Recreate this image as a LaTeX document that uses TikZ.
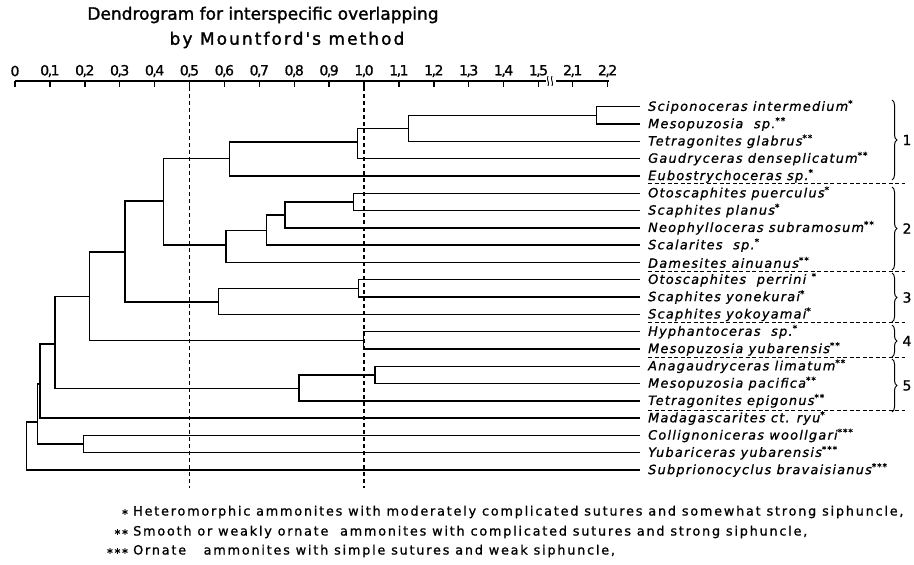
\documentclass[tikz,border=0pt]{standalone}
\usepackage{fontspec}
\setmainfont{DejaVu Sans}[FakeBold=1]
\newfontfamily\spcfont{DejaVu Sans}[LetterSpace=10,FakeBold=1]
\newfontfamily\legfont{DejaVu Sans}[LetterSpace=14,FakeBold=1]
\newfontfamily\ttlfont{DejaVu Sans}[LetterSpace=12,FakeBold=1.5]
\usetikzlibrary{decorations.pathreplacing}
\newcommand\dv[2]{#1\kern-1.5pt,\kern-1.5pt#2}

\tikzset{
  link/.style={line width=1.4pt},
  cut/.style={line width=1.2pt,dash pattern=on 4pt off 3pt},
  sep/.style={line width=1pt,dash pattern=on 4pt off 2.5pt},
  leaf/.style={anchor=west,inner xsep=8pt,inner ysep=0pt,font=\spcfont\itshape\fontsize{12.8}{14}\selectfont},
  legtext/.style={anchor=west,inner sep=0pt,font=\legfont\fontsize{12.8}{14}\selectfont},
  grp/.style={decorate,decoration={brace,amplitude=5pt},line width=1pt},
}

\begin{document}
\begin{tikzpicture}[x=1pt,y=-1pt]
\useasboundingbox (0,0) rectangle (914,565);

\node[font=\ttlfont\fontsize{17}{20}\selectfont,inner sep=0pt] (title1) at (263,15) {\addfontfeature{LetterSpace=0}Dendrogram for interspecific overlapping};
\node[font=\ttlfont\fontsize{17}{20}\selectfont,inner sep=0pt] (title2) at (287,40) {by Mountford's method};

% scale
\draw[link] (15,81) -- (546,81) (556,81) -- (609,81);
\draw[line width=0.9pt] (548,76) .. controls (546,79) and (550,83) .. (548,86);
\draw[line width=0.9pt] (552,76) .. controls (550,79) and (554,83) .. (552,86);
\foreach \x/\t [count=\i] in {15/0,49.9/\dv01,84.8/\dv02,119.7/\dv03,154.6/\dv04,189.5/\dv05,
    224.4/\dv06,259.3/\dv07,294.2/\dv08,329.1/\dv09,364/\dv10,398.9/\dv11,433.8/\dv12,
    468.7/\dv13,503.6/\dv14,538.5/\dv15,572.7/\dv21,607.6/\dv22} {
  \draw[link] (\x,81) -- (\x,87) coordinate (tk\i);
  \node[font=\fontsize{14}{15}\selectfont] (sc\i) at (\x,71) {\t};
}
\draw[cut] (tk6) -- (tk6 |- 0,488);
\draw[cut] (tk11) -- (tk11 |- 0,488);

% species
\foreach \n [count=\k from 0] in {Sciponoceras intermedium\textsuperscript{*},
    Mesopuzosia\ \ sp.\textsuperscript{**},Tetragonites glabrus\textsuperscript{**},
    Gaudryceras denseplicatum\textsuperscript{**},Eubostrychoceras sp.\textsuperscript{*},
    Otoscaphites puerculus\textsuperscript{*},Scaphites planus\textsuperscript{*},
    Neophylloceras subramosum\textsuperscript{**},Scalarites\ \ sp.\textsuperscript{*},
    Damesites ainuanus\textsuperscript{**},Otoscaphites\ \ perrini\ \textsuperscript{*},
    Scaphites yonekurai\textsuperscript{*},Scaphites yokoyamai\textsuperscript{*},
    Hyphantoceras\ \ sp.\textsuperscript{*},Mesopuzosia yubarensis\textsuperscript{**},
    Anagaudryceras limatum\textsuperscript{**},Mesopuzosia pacifica\textsuperscript{**},
    Tetragonites epigonus\textsuperscript{**},Madagascarites ct. ryu\textsuperscript{*},
    Collignoniceras woollgari\textsuperscript{***},Yubariceras yubarensis\textsuperscript{***},
    Subprionocyclus bravaisianus\textsuperscript{***}}
  \node[leaf] (l\k) at (640,106.7+17.3*\k) {\n};

% joins
\coordinate (a1) at (596.7,115.3);
\coordinate (a2) at (408.3,128.3);
\coordinate (a3) at (357.3,142);
\coordinate (a4) at (229.3,158.5);
\coordinate (b1) at (353.3,202);
\coordinate (b2) at (285,215);
\coordinate (b3) at (266.7,230.5);
\coordinate (b4) at (226,245);
\coordinate (c1) at (163.3,201);
\coordinate (d1) at (358.3,288.5);
\coordinate (d2) at (218.3,302);
\coordinate (c2) at (125,252);
\coordinate (e1) at (363.3,340.3);
\coordinate (c3) at (89.3,296.5);
\coordinate (f1) at (375,375);
\coordinate (f2) at (299,388.3);
\coordinate (g1) at (55,344);
\coordinate (g2) at (40,384);
\coordinate (h1) at (83.3,444);
\coordinate (g3) at (37.7,422);
\coordinate (r0) at (26.7,446);

\draw[link] (l0.west) -| (a1) |- (l1.west);
\draw[link] (a1) -| (a2) |- (l2.west);
\draw[link] (a2) -| (a3) |- (l3.west);
\draw[link] (a3) -| (a4) |- (l4.west);
\draw[link] (l5.west) -| (b1) |- (l6.west);
\draw[link] (b1) -| (b2) |- (l7.west);
\draw[link] (b2) -| (b3) |- (l8.west);
\draw[link] (b3) -| (b4) |- (l9.west);
\draw[link] (a4) -| (c1) |- (b4);
\draw[link] (l10.west) -| (d1) |- (l11.west);
\draw[link] (d1) -| (d2) |- (l12.west);
\draw[link] (c1) -| (c2) |- (d2);
\draw[link] (l13.west) -| (e1) |- (l14.west);
\draw[link] (c2) -| (c3) |- (e1);
\draw[link] (l15.west) -| (f1) |- (l16.west);
\draw[link] (f1) -| (f2) |- (l17.west);
\draw[link] (c3) -| (g1) |- (f2);
\draw[link] (g1) -| (g2) |- (l18.west);
\draw[link] (l19.west) -| (h1) |- (l20.west);
\draw[link] (g2) -| (g3) |- (h1);
\draw[link] (g3) -| (r0) |- (l21.west);

% groups
\foreach \y in {183.5,271,322.5,357.5,410}
  \draw[sep] (648,\y) -- (905,\y);
\foreach \a/\b/\m [count=\j] in {100/180/1,187/270/2,273/322/3,325/357/4,359/412/5} {
  \draw[grp] (892,\a) -- (892,\b);
  \node[font=\fontsize{14}{15}\selectfont] (grp\j) at (907,{(\a+\b)/2}) {\m};
}

% legend
\node[anchor=east,inner sep=0pt,font=\fontsize{9}{10}\selectfont] (m1) at (129,512) {∗};
\node[legtext] (k1) at (133,512) {Heteromorphic ammonites with moderately complicated sutures and somewhat strong siphuncle,};
\node[anchor=east,inner sep=0pt,font=\fontsize{9}{10}\selectfont] (m2) at (129,532) {∗∗};
\node[legtext] (k2) at (133,532) {Smooth or weakly ornate\ \ ammonites with complicated sutures and strong siphuncle,};
\node[anchor=east,inner sep=0pt,font=\fontsize{9}{10}\selectfont] (m3) at (129,551) {∗∗∗};
\node[legtext] (k3) at (133,551) {Ornate\ \ \ ammonites with simple sutures and weak siphuncle,};
\end{tikzpicture}
\end{document}
